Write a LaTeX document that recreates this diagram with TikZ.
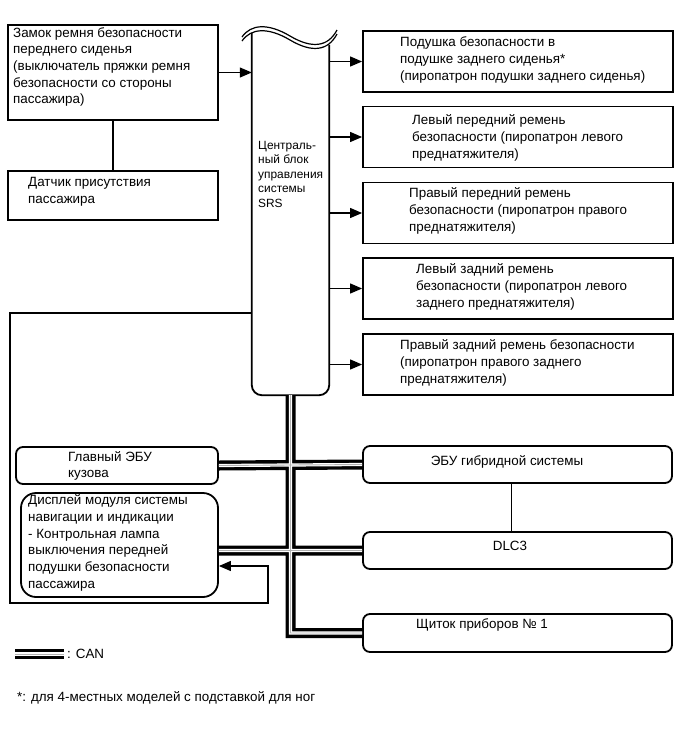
\documentclass[tikz,border=0pt]{standalone}
\usepackage{fontspec}
\setmainfont{Liberation Sans}
\usetikzlibrary{arrows.meta, positioning}

\begin{document}
\begin{tikzpicture}[
    x=1pt, y=-1pt,
    font=\fontsize{13.4}{16.7}\selectfont,
    box/.style={rectangle, draw=black, line width=1.8pt, inner sep=0pt},
    rbox/.style={box, rounded corners=7pt},
    txt/.style={anchor=west, align=left, inner sep=0pt},
    arrow/.style={-{Triangle[length=12pt, width=10pt]}, line width=1.2pt},
    wire/.style={line width=1.2pt},
    canbus/.style={draw=black, line width=10pt, postaction={draw=white, line width=3.2pt}, postaction={draw=gray!60, line width=0.9pt}}
]
\useasboundingbox (0,0) rectangle (690,756);

% inputs on the left
\node (buckle) [box, minimum width=210pt, minimum height=95pt] at (113,72.5) {};
\node (bucklet) [txt] at (13,67) {Замок ремня безопасности\\переднего сиденья\\(выключатель пряжки ремня\\безопасности со стороны\\пассажира)};
\node (sensor) [box, minimum width=210pt, minimum height=49pt] at (113,195.5) {};
\node (sensort) [txt] at (28,192) {Датчик присутствия\\пассажира};

% central unit with broken top
\node (ecu) [minimum width=77pt, minimum height=362pt, inner sep=0pt] at (290.5,214) {};
\draw [line width=1.8pt, rounded corners=10pt] (ecu.north west) |- (ecu.south) -| ([yshift=-12pt]ecu.north east);
\draw [line width=1.2pt] (242,37) .. controls (251,24) and (268,23) .. (290,36) .. controls (312,49) and (328,47) .. (337,30);
\draw [line width=1.2pt] (242,41) .. controls (251,28) and (268,27) .. (290,40) .. controls (312,53) and (328,51) .. (337,34);
\node (ecut) [txt, font=\fontsize{11.9}{14.5}\selectfont] at (258,174) {Централь-\\ный блок\\управления\\системы\\SRS};

% outputs on the right
\node (rsab) [box, minimum width=310pt, minimum height=61pt] at (518,61.5) {};
\node (rsabt) [txt] at (400,60) {Подушка безопасности в\\подушке заднего сиденья*\\(пиропатрон подушки заднего сиденья)};
\node (flpt) [box, minimum width=310pt, minimum height=61pt] at (518,137) {};
\node (flptt) [txt] at (412,138) {Левый передний ремень\\безопасности (пиропатрон левого\\преднатяжителя)};
\node (frpt) [box, minimum width=310pt, minimum height=61pt] at (518,213) {};
\node (frptt) [txt] at (409,211) {Правый передний ремень\\безопасности (пиропатрон правого\\преднатяжителя)};
\node (rlpt) [box, minimum width=310pt, minimum height=61pt] at (518,288.5) {};
\node (rlptt) [txt] at (416,287) {Левый задний ремень\\безопасности (пиропатрон левого\\заднего преднатяжителя)};
\node (rrpt) [box, minimum width=310pt, minimum height=61pt] at (518,364.5) {};
\node (rrptt) [txt] at (400,363) {Правый задний ремень безопасности\\(пиропатрон правого заднего\\преднатяжителя)};

% CAN nodes
\node (body) [rbox, minimum width=202pt, minimum height=37pt] at (117,465.5) {};
\node (bodyt) [txt] at (68,466) {Главный ЭБУ\\кузова};
\node (disp) [rbox, rounded corners=15pt, minimum width=197pt, minimum height=104pt] at (119.5,545) {};
\node (dispt) [txt] at (28,543) {Дисплей модуля системы\\навигации и индикации\\- Контрольная лампа\\выключения передней\\подушки безопасности\\пассажира};
\node (hv) [rbox, minimum width=309pt, minimum height=37pt] at (517.5,464.5) {};
\node (hvt) [inner sep=0pt] at (507,462) {ЭБУ гибридной системы};
\node (dlc) [rbox, minimum width=309pt, minimum height=37pt] at (517.5,550.5) {};
\node (dlct) [inner sep=0pt] at (510,546) {DLC3};
\node (meter) [rbox, minimum width=309pt, minimum height=38pt] at (517.5,633) {};
\node (metert) [txt] at (416,625) {Щиток приборов № 1};

% wiring
\draw [arrow] (buckle.east) -- (buckle.east -| ecu.west);
\draw [wire] (buckle) -- (sensor);
\draw [arrow] (ecu.east |- rsab.west) -- (rsab.west);
\draw [arrow] (ecu.east |- flpt.west) -- (flpt.west);
\draw [arrow] (ecu.east |- frpt.west) -- (frpt.west);
\draw [arrow] (ecu.east |- rlpt.west) -- (rlpt.west);
\draw [arrow] (ecu.east |- rrpt.west) -- (rrpt.west);
\draw [wire] ([xshift=-6pt]hv.south) -- ([xshift=-6pt]dlc.north);

\coordinate (lpa) at (10,313);
\coordinate (lpb) at (10,603);
\coordinate (lpc) at (268,603);
\draw [arrow] (ecu.west |- lpa) -- (lpa) -- (lpb) -- (lpc) |- ([yshift=-21pt]disp.east);

% CAN bus
\draw [canbus] (ecu.south) -- (ecu.south |- meter.west) -- (meter.west)
    (body.east) -- (hv.west)
    (disp.east |- dlc.west) -- (dlc.west);

% legend
\coordinate (lgs) at (15,654);
\coordinate (lge) at (64,654);
\draw [canbus] (lgs) -- (lge);
\node (canlbl) [txt] at (67,654) {: CAN};
\node (note) [txt] at (17,698) {*: для 4-местных моделей с подставкой для ног};
\end{tikzpicture}
\end{document}
